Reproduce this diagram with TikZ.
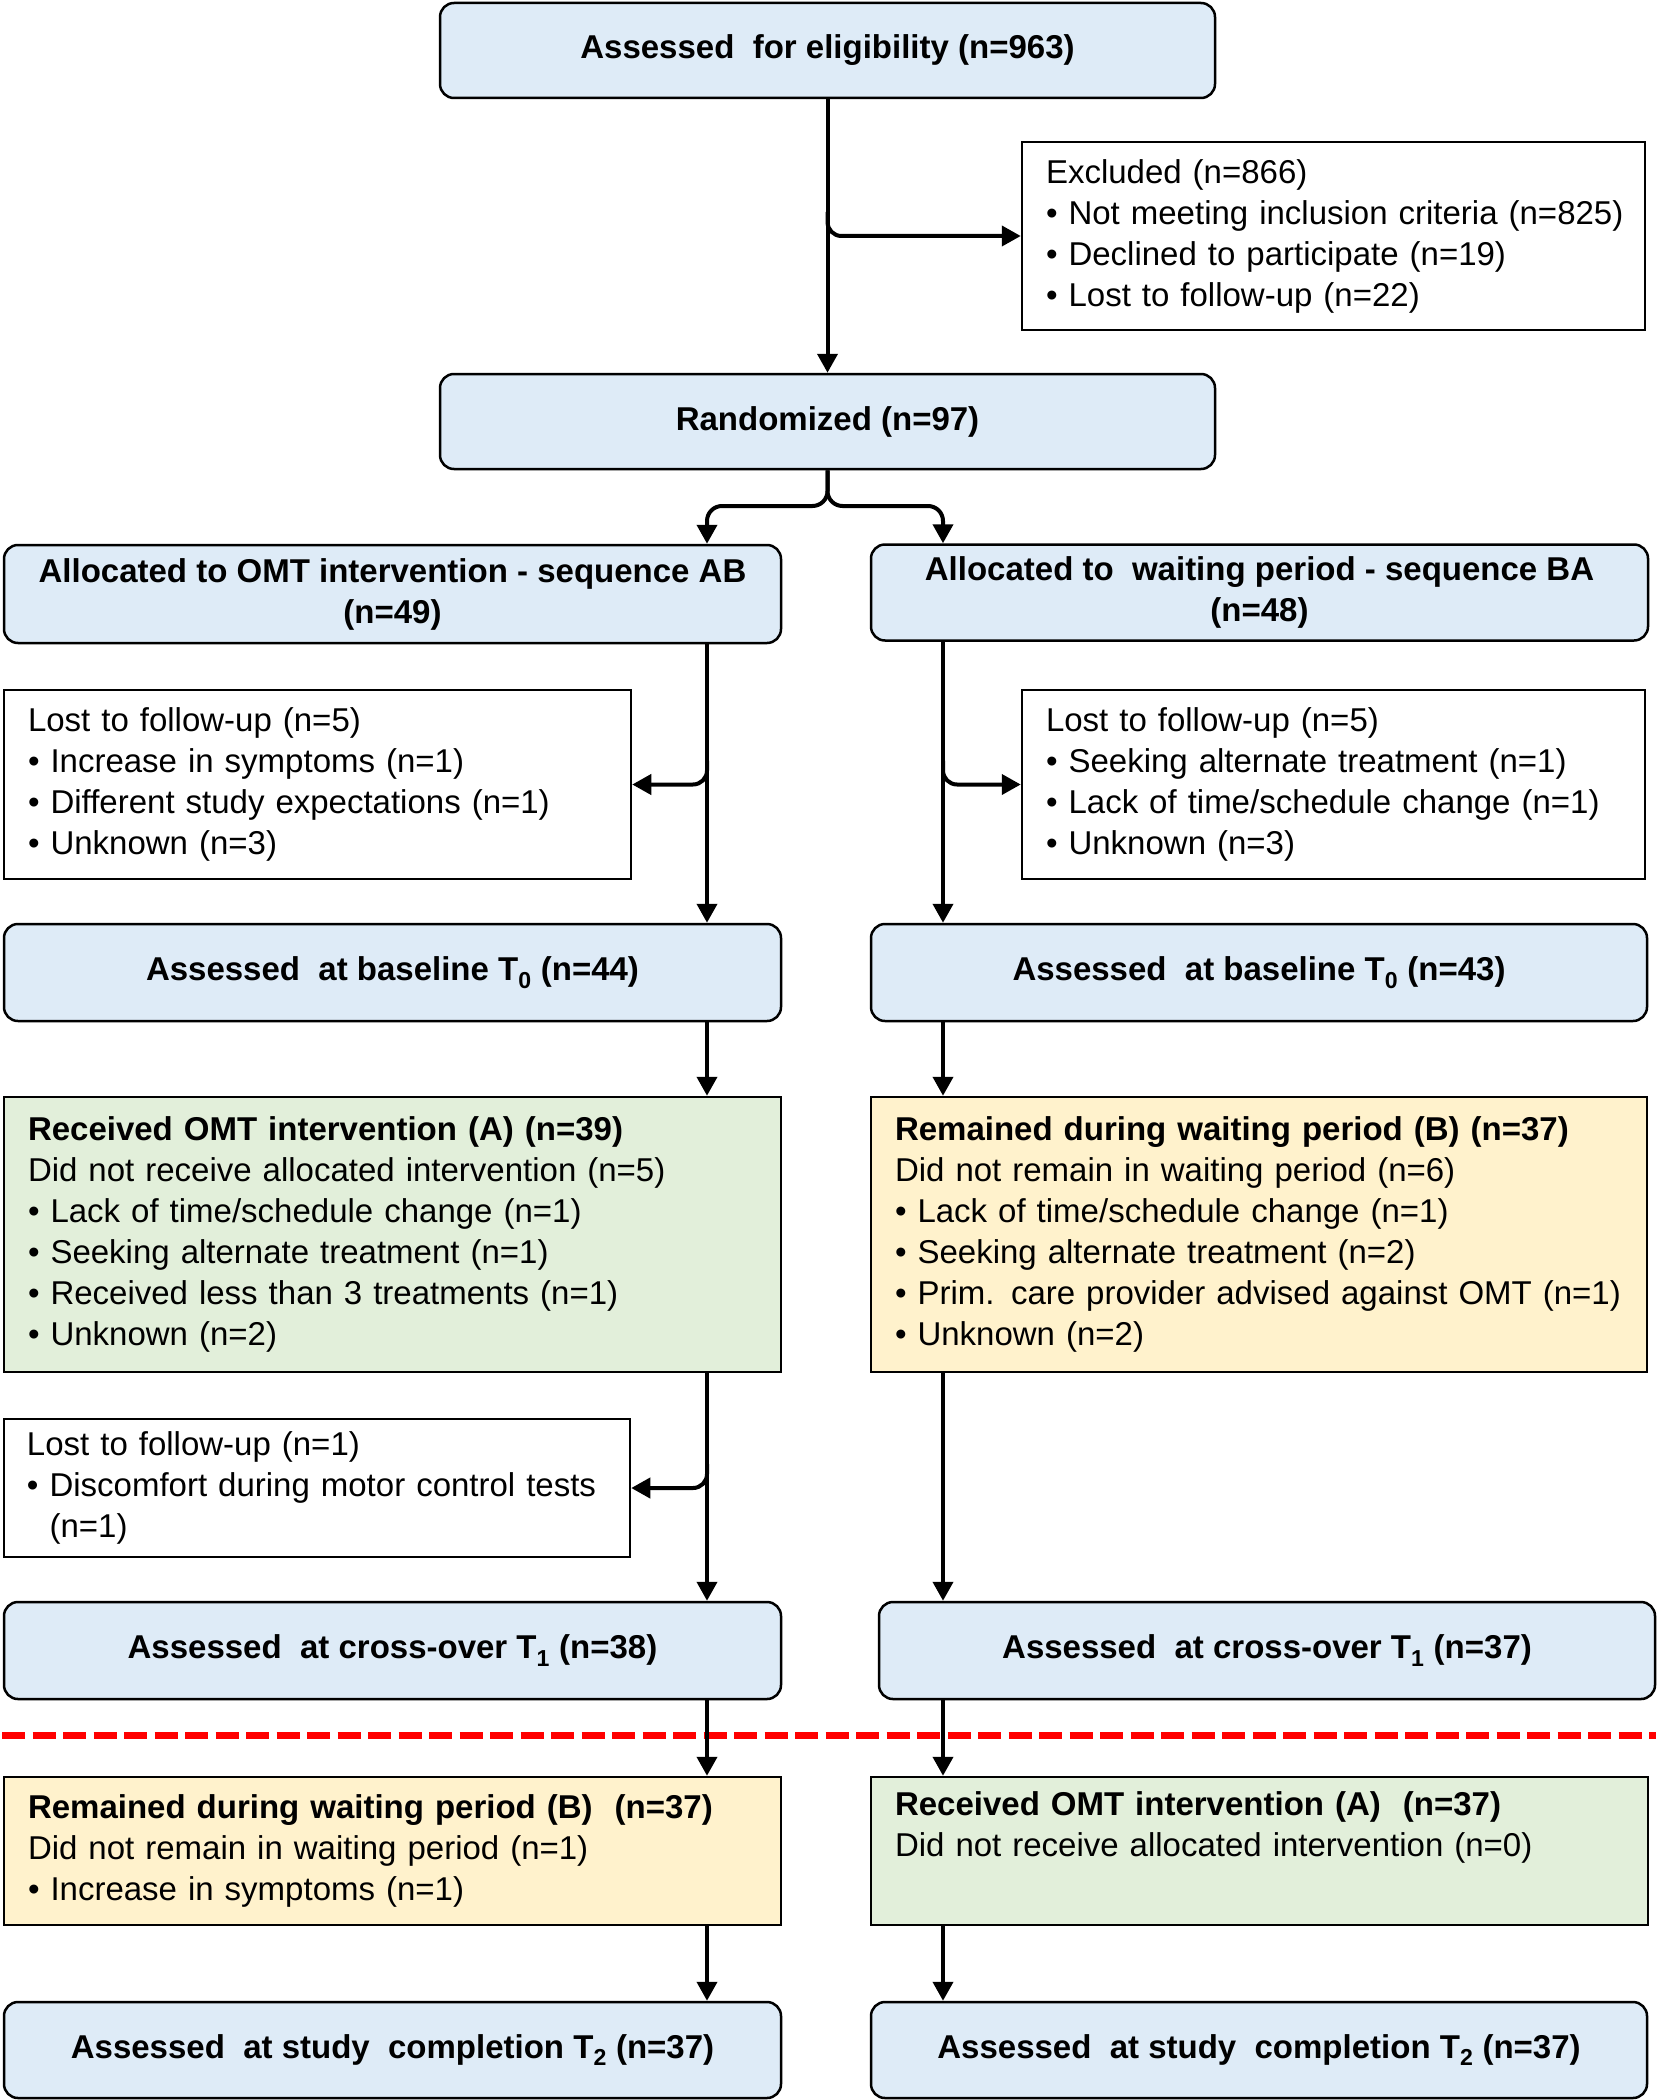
\documentclass[tikz,border=0pt]{standalone}
\usepackage{fontspec}
\setmainfont{Liberation Sans}
\usetikzlibrary{arrows.meta,calc}
\definecolor{boxblue}{HTML}{DEEBF7}
\definecolor{boxgreen}{HTML}{E2EFDA}
\definecolor{boxyellow}{HTML}{FFF2CC}
\tikzset{
  base/.style={draw=black, line width=2.5pt, inner sep=0pt, font=\fontsize{33}{41}\selectfont},
  bluebox/.style={base, fill=boxblue, rounded corners=14pt, align=center, font=\fontsize{33}{41}\selectfont\bfseries},
  whitebox/.style={base, fill=white, align=left},
  greenbox/.style={base, fill=boxgreen, align=left},
  yellowbox/.style={base, fill=boxyellow, align=left},
  arr/.style={line width=4pt, -{Triangle[width=20pt,length=19pt]}},
  bx/.style 2 args={minimum width=#1pt, minimum height=#2pt},
}
\begin{document}
\begin{tikzpicture}[x=1pt,y=-1pt]
\useasboundingbox (0,0) rectangle (1656,2100);
\fill[white] (0,0) rectangle (1656,2100);

\coordinate (colL) at (707,0);
\coordinate (colR) at (943,0);
\coordinate (colM) at (827.5,0);

% top
\node[bluebox, bx={775}{95}] (elig) at (827.5,50.5) {Assessed\ \ for eligibility (n=963)};
\node[whitebox, bx={623}{188}, text width=575pt] (excl) at (1333.5,236) {Excluded (n=866)\\
\mbox{• Not meeting inclusion criteria (n=825)}\\
\mbox{• Declined to participate (n=19)}\\
\mbox{• Lost to follow-up (n=22)}};
\node[bluebox, bx={775}{95}] (rand) at (827.5,421.5) {Randomized (n=97)};

% allocation
\node[bluebox, bx={777}{98}] (allocL) at (392.5,594) {Allocated to OMT intervention - sequence AB\\(n=49)};
\node[bluebox, bx={777}{96}] (allocR) at (1259.5,592.5) {Allocated to\ \ waiting period - sequence BA\\(n=48)};

\node[whitebox, bx={627}{189}, text width=579pt] (lostL) at (317.5,784.5) {\mbox{Lost to follow-up (n=5)}\\
\mbox{• Increase in symptoms (n=1)}\\
\mbox{• Different study expectations (n=1)}\\
\mbox{• Unknown (n=3)}};
\node[whitebox, bx={623}{189}, text width=575pt] (lostR) at (1333.5,784.5) {\mbox{Lost to follow-up (n=5)}\\
\mbox{• Seeking alternate treatment (n=1)}\\
\mbox{• Lack of time/schedule change (n=1)}\\
\mbox{• Unknown (n=3)}};

\node[bluebox, bx={777}{97}] (baseL) at (392.5,972.5) {Assessed\ \ at baseline T\textsubscript{0} (n=44)};
\node[bluebox, bx={776}{97}] (baseR) at (1259,972.5) {Assessed\ \ at baseline T\textsubscript{0} (n=43)};

\node[greenbox, bx={777}{275}, text width=729pt] (recvA) at (392.5,1234.5) {\textbf{Received OMT intervention (A) (n=39)}\\
\mbox{Did not receive allocated intervention (n=5)}\\
\mbox{• Lack of time/schedule change (n=1)}\\
\mbox{• Seeking alternate treatment (n=1)}\\
\mbox{• Received less than 3 treatments (n=1)}\\
\mbox{• Unknown (n=2)}};
\node[yellowbox, bx={776}{275}, text width=728pt] (remB) at (1259,1234.5) {\textbf{Remained during waiting period (B) (n=37)}\\
\mbox{Did not remain in waiting period (n=6)}\\
\mbox{• Lack of time/schedule change (n=1)}\\
\mbox{• Seeking alternate treatment (n=2)}\\
\mbox{• Prim. care provider advised against OMT (n=1)}\\
\mbox{• Unknown (n=2)}};

\node[whitebox, bx={626}{138}, text width=580pt] (lost2) at (317,1488) {\mbox{Lost to follow-up (n=1)}\\
\mbox{• Discomfort during motor control tests}\\
\mbox{\hphantom{•~}(n=1)}};

\node[bluebox, bx={777}{97}] (crossL) at (392.5,1650.5) {Assessed\ \ at cross-over T\textsubscript{1} (n=38)};
\node[bluebox, bx={776}{97}] (crossR) at (1267,1650.5) {Assessed\ \ at cross-over T\textsubscript{1} (n=37)};

% cross-over line
\draw[red, line width=7pt, dash pattern=on 23pt off 7.5pt] (2,1735) -- (1656,1735);

\node[yellowbox, bx={777}{148}, text width=729pt] (remB2) at (392.5,1851) {\textbf{Remained during waiting period (B)\ \ (n=37)}\\
\mbox{Did not remain in waiting period (n=1)}\\
\mbox{• Increase in symptoms (n=1)}};
\node[greenbox, bx={777}{148}, text width=729pt] (recvA2) at (1259.5,1851) {\textbf{Received OMT intervention (A)\ \ (n=37)}\\
\mbox{Did not receive allocated intervention (n=0)}\\
\strut};

\node[bluebox, bx={777}{96}] (compL) at (392.5,2050) {Assessed\ \ at study\ \ completion T\textsubscript{2} (n=37)};
\node[bluebox, bx={776}{96}] (compR) at (1259,2050) {Assessed\ \ at study\ \ completion T\textsubscript{2} (n=37)};

% connectors
\draw[arr] (elig.south) -- (rand.north);
\draw[arr, rounded corners=14pt] ($(excl.west -| colM)+(0,-24)$) |- (excl.west);
\coordinate (splitY) at (0,506);
\draw[arr, rounded corners=15pt] (rand.south) |- (splitY -| colL) -- (allocL.north -| colL);
\draw[arr, rounded corners=15pt] (rand.south) |- (splitY -| colR) -- (allocR.north -| colR);

% left column
\draw[arr] (allocL.south -| colL) -- (baseL.north -| colL);
\draw[arr, rounded corners=14pt] ($(lostL.east -| colL)+(0,-24)$) |- (lostL.east);
\draw[arr] (baseL.south -| colL) -- (recvA.north -| colL);
\draw[arr] (recvA.south -| colL) -- (crossL.north -| colL);
\draw[arr, rounded corners=14pt] ($(lost2.east -| colL)+(0,-24)$) |- (lost2.east);
\draw[arr] (crossL.south -| colL) -- (remB2.north -| colL);
\draw[arr] (remB2.south -| colL) -- (compL.north -| colL);

% right column
\draw[arr] (allocR.south -| colR) -- (baseR.north -| colR);
\draw[arr, rounded corners=14pt] ($(lostR.west -| colR)+(0,-24)$) |- (lostR.west);
\draw[arr] (baseR.south -| colR) -- (remB.north -| colR);
\draw[arr] (remB.south -| colR) -- (crossR.north -| colR);
\draw[arr] (crossR.south -| colR) -- (recvA2.north -| colR);
\draw[arr] (recvA2.south -| colR) -- (compR.north -| colR);
\end{tikzpicture}
\end{document}
